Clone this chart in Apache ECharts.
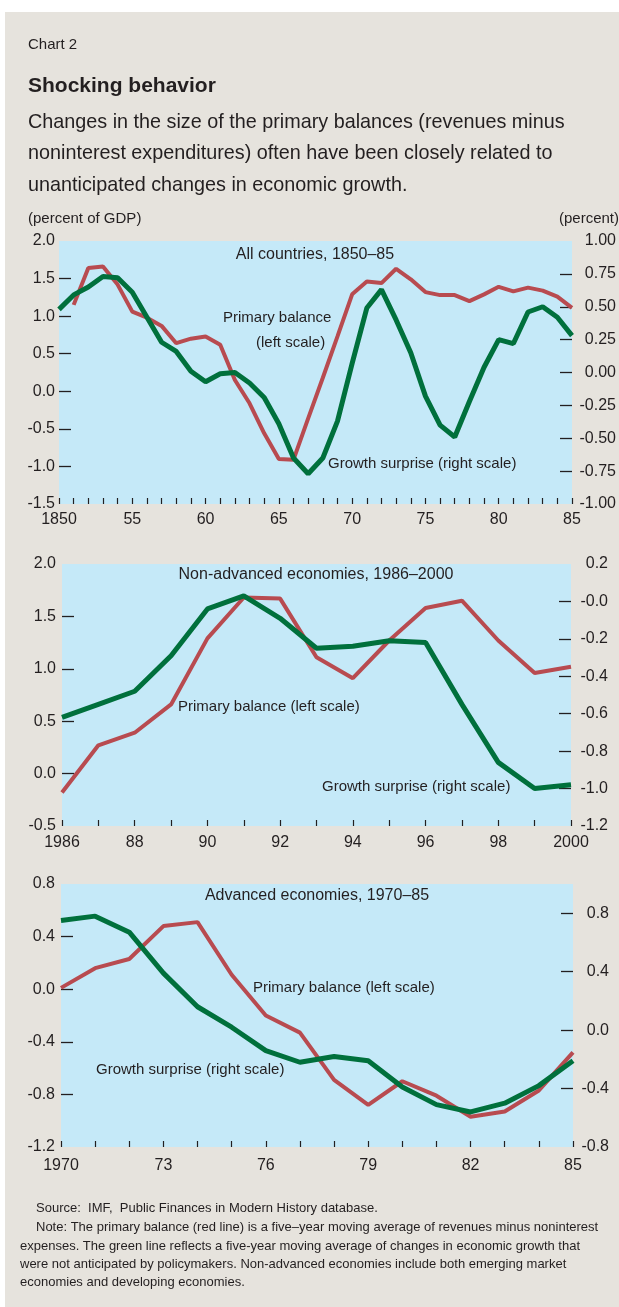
<!DOCTYPE html>
<html>
<head>
<meta charset="utf-8">
<script src="https://cdn.jsdelivr.net/npm/echarts@6/dist/echarts.min.js"></script>
<style>
  html, body { margin: 0; padding: 0; background: #fff; }
  #bg { position: absolute; left: 5px; top: 12px; right: 0; bottom: 0; background: #e6e3dd; }
  #main { position: absolute; left: 0; top: 0; width: 619px; height: 1307px; }
</style>
</head>
<body>
<div id="bg"></div>
<div id="main"></div>
<script>
// ---- data ----
// panel 1: all countries, 1850-85
const years1 = ['1850','1851','1852','1853','1854','1855','1856','1857','1858','1859',
  '1860','1861','1862','1863','1864','1865','1866','1867','1868','1869',
  '1870','1871','1872','1873','1874','1875','1876','1877','1878','1879',
  '1880','1881','1882','1883','1884','1885'];
const balance1 = [null, 1.15, 1.64, 1.66, 1.42, 1.06, 0.98, 0.87, 0.64, 0.70,
  0.73, 0.62, 0.15, -0.16, -0.56, -0.90, -0.91, -0.36, 0.18, 0.73,
  1.29, 1.46, 1.44, 1.63, 1.49, 1.32, 1.28, 1.28, 1.20, 1.29,
  1.39, 1.33, 1.38, 1.34, 1.26, 1.11];
const surprise1 = [0.48, 0.59, 0.65, 0.73, 0.72, 0.61, 0.42, 0.23, 0.16, 0.01,
  -0.07, -0.01, 0.00, -0.08, -0.19, -0.39, -0.65, -0.77, -0.65, -0.37,
  0.07, 0.49, 0.63, 0.40, 0.15, -0.18, -0.40, -0.49, -0.22, 0.04,
  0.25, 0.22, 0.46, 0.50, 0.42, 0.28];
const xLabels1 = ['1850', '55', '60', '65', '70', '75', '80', '85'];
const leftLabels1 = [-1.5, -1.0, -0.5, 0.0, 0.5, 1.0, 1.5, 2.0];
const rightLabels1 = [-1.0, -0.75, -0.5, -0.25, 0.0, 0.25, 0.5, 0.75, 1.0];

// panel 2: non-advanced economies, 1986-2000
const years2 = ['1986','1987','1988','1989','1990','1991','1992','1993',
  '1994','1995','1996','1997','1998','1999','2000'];
const balance2 = [-0.18, 0.27, 0.39, 0.66, 1.29, 1.68, 1.67, 1.11, 0.91, 1.27, 1.58, 1.65, 1.27, 0.96, 1.02];
const surprise2 = [-0.62, -0.55, -0.48, -0.29, -0.04, 0.03, -0.09, -0.25, -0.24, -0.21, -0.22, -0.55, -0.86, -1.00, -0.98];
const xLabels2 = ['1986', '88', '90', '92', '94', '96', '98', '2000'];
const leftLabels2 = [-0.5, 0.0, 0.5, 1.0, 1.5, 2.0];
const rightLabels2 = [-1.2, -1.0, -0.8, -0.6, -0.4, -0.2, 0.0, 0.2];

// panel 3: advanced economies, 1970-85
const years3 = ['1970','1971','1972','1973','1974','1975','1976','1977',
  '1978','1979','1980','1981','1982','1983','1984','1985'];
const balance3 = [0.01, 0.16, 0.23, 0.48, 0.51, 0.11, -0.20, -0.33, -0.69, -0.88, -0.70, -0.81, -0.97, -0.93, -0.77, -0.48];
const surprise3 = [0.75, 0.78, 0.67, 0.39, 0.16, 0.02, -0.14, -0.22, -0.18, -0.21, -0.39, -0.51, -0.56, -0.50, -0.38, -0.21];
const xLabels3 = ['1970', '73', '76', '79', '82', '85'];
const leftLabels3 = [-1.2, -0.8, -0.4, 0.0, 0.4, 0.8];
const rightLabels3 = [-0.8, -0.4, 0.0, 0.4, 0.8];

// ---- styling ----
const FONT = '"Liberation Sans", Arial, sans-serif';
const INK = '#231f20';
const RED = '#b84b50';
const GREEN = '#00703c';
const SKY = '#c5e9f8';

function xAxis(grid, data, labels, step, margin) {
  return {
    type: 'category', gridIndex: grid, data: data, boundaryGap: false, position: 'bottom',
    axisLine: { show: false, onZero: false },
    axisTick: { show: true, inside: true, length: 6, interval: 0, lineStyle: { color: INK, width: 1.2 } },
    axisLabel: { interval: step - 1, margin: margin, color: INK, fontSize: 16, fontFamily: FONT,
      formatter: (v, i) => labels[i / step] }
  };
}

function yAxis(grid, pos, min, max, interval, labels, digits, margin, fmt) {
  const ticks = labels.filter(v => v > min + 1e-9 && v < max - 1e-9);
  return {
    type: 'value', gridIndex: grid, position: pos, min: min, max: max, interval: interval,
    axisLine: { show: false, onZero: false }, splitLine: { show: false },
    axisTick: { show: true, inside: true, length: 12, customValues: ticks, lineStyle: { color: INK, width: 1.3 } },
    axisLabel: {
      customValues: labels, margin: margin, color: INK, fontSize: 16, fontFamily: FONT,
      align: 'right',
      formatter: fmt || (v => v.toFixed(digits))
    }
  };
}

function line(xi, yi, data, color, width) {
  return {
    type: 'line', xAxisIndex: xi, yAxisIndex: yi, data: data, symbol: 'none',
    lineStyle: { color: color, width: width }, silent: true, animation: false
  };
}

function txt(x, y, text, size, opts) {
  opts = opts || {};
  return {
    type: 'text', silent: true,
    style: {
      x: x, y: y, text: text, fill: INK,
      font: (opts.bold ? 'bold ' : '') + size + 'px ' + FONT,
      textAlign: opts.align || 'left', textVerticalAlign: 'middle',
      align: opts.align || 'left', verticalAlign: 'middle'
    }
  };
}

const option = {
  animation: false,
  grid: [
    { left: 59, right: 47, top: 241, height: 263, show: true, backgroundColor: SKY, borderWidth: 0 },
    { left: 62, right: 48, top: 564, height: 262, show: true, backgroundColor: SKY, borderWidth: 0 },
    { left: 61, right: 46, top: 884, height: 263, show: true, backgroundColor: SKY, borderWidth: 0 }
  ],
  xAxis: [
    xAxis(0, years1, xLabels1, 5, 8),
    xAxis(1, years2, xLabels2, 2, 9),
    xAxis(2, years3, xLabels3, 3, 11)
  ],
  yAxis: [
    yAxis(0, 'left', -1.5, 2.0, 0.5, leftLabels1, 1, 4),
    yAxis(0, 'right', -1.0, 1.0, 0.25, rightLabels1, 2, 44),
    yAxis(1, 'left', -0.5, 2.0, 0.5, leftLabels2, 1, 6),
    yAxis(1, 'right', -1.2, 0.2, 0.2, rightLabels2, 1, 37,
      v => Math.abs(v) < 1e-9 ? '-0.0' : v.toFixed(1)),
    yAxis(2, 'left', -1.2, 0.8, 0.4, leftLabels3, 1, 6),
    yAxis(2, 'right', -0.8, 1.0, 0.4, rightLabels3, 1, 36)
  ],
  series: [
    line(0, 0, balance1, RED, 4),
    line(0, 1, surprise1, GREEN, 5),
    line(1, 2, balance2, RED, 4),
    line(1, 3, surprise2, GREEN, 5),
    line(2, 4, balance3, RED, 4),
    line(2, 5, surprise3, GREEN, 5)
  ],
  graphic: [
    txt(28, 45, 'Chart 2', 15),
    txt(28, 86, 'Shocking behavior', 21, { bold: true }),
    txt(28, 123, 'Changes in the size of the primary balances (revenues minus', 19.8),
    txt(28, 154, 'noninterest expenditures) often have been closely related to', 19.8),
    txt(28, 186, 'unanticipated changes in economic growth.', 19.8),
    txt(28, 219, '(percent of GDP)', 15),
    txt(619, 219, '(percent)', 15, { align: 'right' }),

    txt(315, 255, 'All countries, 1850\u201385', 16, { align: 'center' }),
    txt(223, 318, 'Primary balance', 15),
    txt(256, 343, '(left scale)', 15),
    txt(328, 464, 'Growth surprise (right scale)', 15),

    txt(316, 575, 'Non-advanced economies, 1986\u20132000', 16, { align: 'center' }),
    txt(178, 707, 'Primary balance (left scale)', 15),
    txt(322, 787, 'Growth surprise (right scale)', 15),

    txt(317, 896, 'Advanced economies, 1970\u201385', 16, { align: 'center' }),
    txt(253, 988, 'Primary balance (left scale)', 15),
    txt(96, 1070, 'Growth surprise (right scale)', 15),

    txt(36, 1208, 'Source:  IMF,  Public Finances in Modern History database.', 13),
    txt(36, 1227, 'Note: The primary balance (red line) is a five\u2013year moving average of revenues minus noninterest', 13),
    txt(20, 1246, 'expenses. The green line reflects a five-year moving average of changes in economic growth that', 13),
    txt(20, 1264, 'were not anticipated by policymakers. Non-advanced economies include both emerging market', 13),
    txt(20, 1282, 'economies and developing economies.', 13)
  ]
};

const chart = echarts.init(document.getElementById('main'), null, { renderer: 'canvas' });
chart.setOption(option);
</script>
</body>
</html>
